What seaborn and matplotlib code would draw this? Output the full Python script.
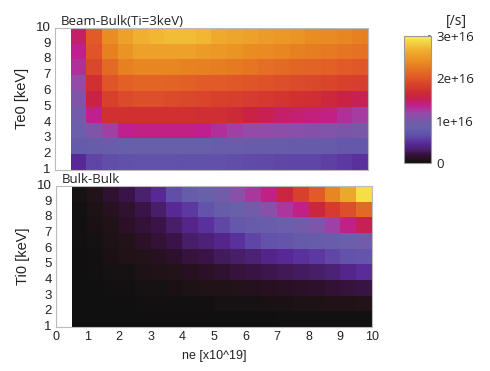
import numpy as np
import pandas as pd
import matplotlib
matplotlib.use("Agg")
import matplotlib.pyplot as plt
import seaborn as sns
from matplotlib.colors import LinearSegmentedColormap

# ---- data (units of 1e16 /s) ----
ne_centers = [0.75, 1.25, 1.75, 2.25, 2.75, 3.25, 3.75, 4.25, 4.75, 5.25,
              5.75, 6.25, 6.75, 7.25, 7.75, 8.25, 8.75, 9.25, 9.75]
T_rows = ["9-10", "8-9", "7-8", "6-7", "5-6", "4-5", "3-4", "2-3", "1-2"]

beam_bulk = [
    [1.45, 2.05, 2.40, 2.55, 2.65, 2.70, 2.72, 2.72, 2.70, 2.62, 2.58, 2.55, 2.50, 2.48, 2.45, 2.40, 2.38, 2.35, 2.30],
    [1.35, 2.00, 2.30, 2.45, 2.55, 2.55, 2.55, 2.55, 2.50, 2.48, 2.45, 2.40, 2.38, 2.35, 2.30, 2.28, 2.25, 2.22, 2.20],
    [1.28, 1.90, 2.15, 2.30, 2.35, 2.35, 2.35, 2.32, 2.30, 2.28, 2.25, 2.22, 2.18, 2.15, 2.12, 2.10, 2.08, 2.05, 2.02],
    [1.15, 1.70, 2.00, 2.08, 2.12, 2.12, 2.10, 2.08, 2.05, 2.05, 2.02, 2.00, 1.98, 1.95, 1.92, 1.90, 1.88, 1.85, 1.82],
    [1.05, 1.55, 1.85, 1.92, 1.95, 1.95, 1.92, 1.90, 1.88, 1.85, 1.82, 1.80, 1.78, 1.75, 1.72, 1.68, 1.62, 1.55, 1.50],
    [0.95, 1.35, 1.70, 1.72, 1.72, 1.72, 1.70, 1.70, 1.68, 1.68, 1.65, 1.55, 1.50, 1.45, 1.42, 1.40, 1.38, 1.28, 1.22],
    [0.88, 1.05, 1.20, 1.35, 1.38, 1.38, 1.38, 1.38, 1.35, 1.28, 1.20, 1.16, 1.14, 1.12, 1.10, 1.08, 1.06, 1.04, 1.02],
    [0.78, 0.80, 0.82, 0.83, 0.83, 0.83, 0.83, 0.83, 0.83, 0.82, 0.82, 0.80, 0.80, 0.80, 0.78, 0.78, 0.78, 0.76, 0.75],
    [0.45, 0.60, 0.65, 0.67, 0.68, 0.68, 0.68, 0.67, 0.67, 0.66, 0.65, 0.64, 0.63, 0.62, 0.60, 0.60, 0.58, 0.55, 0.50],
]

bulk_bulk = [
    [0.03, 0.08, 0.15, 0.22, 0.32, 0.45, 0.65, 0.80, 0.85, 0.95, 1.10, 1.25, 1.38, 1.60, 1.85, 2.05, 2.35, 2.60, 2.90],
    [0.02, 0.05, 0.10, 0.15, 0.22, 0.30, 0.45, 0.55, 0.70, 0.80, 0.85, 0.95, 1.10, 1.25, 1.38, 1.60, 1.80, 1.95, 2.15],
    [0.02, 0.04, 0.07, 0.12, 0.17, 0.22, 0.30, 0.42, 0.50, 0.62, 0.75, 0.80, 0.82, 0.88, 0.95, 1.05, 1.20, 1.38, 1.50],
    [0.02, 0.03, 0.05, 0.08, 0.12, 0.17, 0.22, 0.30, 0.35, 0.42, 0.50, 0.60, 0.68, 0.72, 0.78, 0.80, 0.82, 0.88, 0.95],
    [0.01, 0.02, 0.04, 0.06, 0.08, 0.10, 0.14, 0.18, 0.22, 0.26, 0.30, 0.35, 0.40, 0.45, 0.50, 0.55, 0.62, 0.68, 0.72],
    [0.01, 0.015, 0.025, 0.035, 0.05, 0.07, 0.08, 0.10, 0.12, 0.15, 0.18, 0.20, 0.23, 0.25, 0.28, 0.30, 0.35, 0.42, 0.48],
    [0.005, 0.01, 0.015, 0.02, 0.025, 0.03, 0.04, 0.05, 0.06, 0.07, 0.08, 0.09, 0.10, 0.11, 0.12, 0.14, 0.16, 0.18, 0.20],
    [0.003, 0.005, 0.007, 0.01, 0.012, 0.014, 0.016, 0.018, 0.02, 0.025, 0.03, 0.035, 0.04, 0.045, 0.05, 0.055, 0.06, 0.07, 0.08],
    [0.0, 0.0, 0.001, 0.002, 0.003, 0.004, 0.005, 0.006, 0.007, 0.008, 0.009, 0.01, 0.011, 0.012, 0.013, 0.014, 0.015, 0.016, 0.018],
]

x_tick_vals = list(range(0, 11))
y_tick_vals = list(range(1, 11))
cbar_ticks = [0, 1e16, 2e16, 3e16]
cbar_labels = ["0", "1e+16", "2e+16", "3e+16"]

# ---- colormap ----
nodes = [
    (0.00, "#101010"), (0.02, "#201216"), (0.04, "#2c1028"), (0.07, "#3a1448"),
    (0.10, "#48206a"), (0.15, "#582898"), (0.22, "#6250aa"), (0.28, "#6860aa"),
    (0.34, "#7858a8"), (0.39, "#9848a8"), (0.45, "#c02090"), (0.51, "#c82048"),
    (0.57, "#d03030"), (0.67, "#e05528"), (0.78, "#e88520"), (0.89, "#f0b030"),
    (1.00, "#f8f050"),
]
cmap = LinearSegmentedColormap.from_list("gp", nodes)
cmap.set_bad("white")

sns.set_theme(style="white")
plt.rcParams["font.family"] = ["Liberation Sans", "DejaVu Sans"]

fig = plt.figure(figsize=(4.9, 3.71), dpi=100)
ax1 = fig.add_axes([0.112, 0.542, 0.639, 0.383])
ax2 = fig.add_axes([0.114, 0.119, 0.645, 0.380])
cax = fig.add_axes([0.824, 0.561, 0.055, 0.342])


def make_df(vals):
    arr = np.array(vals, dtype=float) * 1e16
    full = np.full((arr.shape[0], arr.shape[1] + 1), np.nan)
    full[:, 1:] = arr
    return pd.DataFrame(full, index=T_rows, columns=[0.25] + ne_centers)


for ax, vals, title, ylab, show_x in [
    (ax1, beam_bulk, "Beam-Bulk(Ti=3keV)", "Te0 [keV]", False),
    (ax2, bulk_bulk, "Bulk-Bulk", "Ti0 [keV]", True),
]:
    df = make_df(vals)
    sns.heatmap(df, ax=ax, cmap=cmap, vmin=0, vmax=3e16,
                cbar=(ax is ax1), cbar_ax=cax if ax is ax1 else None,
                linewidths=0, rasterized=True)
    ax.set_yticks([10 - t for t in y_tick_vals])
    ax.set_yticklabels([str(t) for t in y_tick_vals], rotation=0, fontsize=9.5,
                       color="#222222")
    if show_x:
        ax.set_xticks([2 * v for v in x_tick_vals])
        ax.set_xticklabels([str(v) for v in x_tick_vals], rotation=0,
                           fontsize=9, color="#222222")
        ax.set_xlabel("ne [x10^19]", fontsize=9, color="#222222", labelpad=5)
    else:
        ax.set_xticks([])
        ax.set_xlabel("")
    ax.tick_params(length=0, pad=3)
    ax.set_ylabel(ylab, fontsize=10.5, color="#222222", labelpad=5)
    ax.set_title(title, loc="left", fontsize=9.5, family=["Open Sans", "DejaVu Sans"],
                 color="#222222", pad=2, x=0.02)
    for s in ax.spines.values():
        s.set_visible(True)
        s.set_color("#bbbbbb")
        s.set_linewidth(0.8)

cb = ax1.collections[0].colorbar
cb.set_ticks(cbar_ticks)
cb.set_ticklabels(cbar_labels)
cb.ax.tick_params(labelsize=9.5, length=2, direction="in", color="#777777", pad=4)
for lab in cb.ax.get_yticklabels():
    lab.set_family(["Open Sans", "DejaVu Sans"])
    lab.set_color("#222222")
cb.outline.set_edgecolor("#999999")
cb.outline.set_linewidth(0.8)
fig.text(456 / 490, 1 - 22 / 371, "[/s]", fontsize=10,
         family=["Open Sans", "DejaVu Sans"], color="#222222", ha="center", va="center")

fig.savefig("out.png", dpi=100)
